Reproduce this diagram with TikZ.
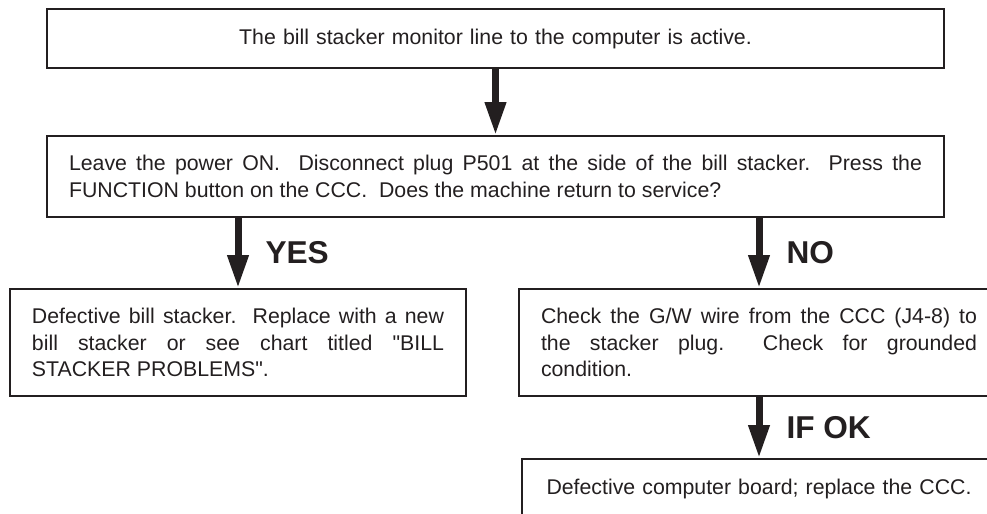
\documentclass[tikz,border=0pt]{standalone}
\usepackage{fontspec}
\setmainfont{Liberation Sans}
\usepackage{tikz}
\usetikzlibrary{arrows.meta}
\definecolor{ink}{HTML}{231F20}

\begin{document}
\begin{tikzpicture}[x=0.5pt, y=-0.5pt,
    chartbox/.style={draw=ink, line width=1pt, text=ink, inner xsep=11pt, inner ysep=0pt,
      font=\fontsize{10.65pt}{13.25pt}\selectfont, align=justify},
    flowarrow/.style={draw=ink, line width=3.5pt, -{Triangle[length=16.5pt, width=10pt]}},
    answer/.style={right, xshift=12pt, inner sep=0pt, text=ink,
      font=\fontsize{15.8pt}{19pt}\selectfont\bfseries}]
  \useasboundingbox (0,0) rectangle (987,514);
  \clip (0,0) rectangle (987,514);
  % boxes
  \node[chartbox, align=center, text width=426.5pt, minimum height=29.5pt] (start) at (495.5,38.5)
    {The bill stacker monitor line to the computer is active.};
  \node[chartbox, text width=426.5pt, minimum height=40.5pt] (check) at (495.5,176.5)
    {Leave the power ON.\@ \ Disconnect plug P501 at the side of the bill stacker.\ \ Press the\linebreak
     FUNCTION button on the CCC.\@ \ Does the machine return to service?};
  \node[chartbox, text width=206pt, minimum height=53.5pt] (yesbox) at (238,342.5)
    {Defective bill stacker.\ \ Replace with a new\linebreak
     bill stacker or see chart titled \textquotedbl BILL\linebreak STACKER PROBLEMS\textquotedbl.};
  \node[chartbox, text width=218pt, minimum height=53.5pt] (nobox) at (759,342.5)
    {Check the G/W wire from the CCC (J4-8) to\linebreak
     the stacker plug.\ \ Check for grounded\linebreak condition.};
  \node[chartbox, align=center, text width=215pt, minimum height=29.5pt] (endbox) at (759,488.5)
    {Defective computer board; replace the CCC.};
  % arrows
  \draw[flowarrow] (start) -- (check);
  \draw[flowarrow] (check.south -| yesbox) -- node[answer] (yeslbl) {YES} (yesbox);
  \draw[flowarrow] (check.south -| nobox) -- node[answer] (nolbl) {NO} (nobox);
  \draw[flowarrow] (nobox) -- node[answer] (oklbl) {IF OK} (endbox);
\end{tikzpicture}
\end{document}
